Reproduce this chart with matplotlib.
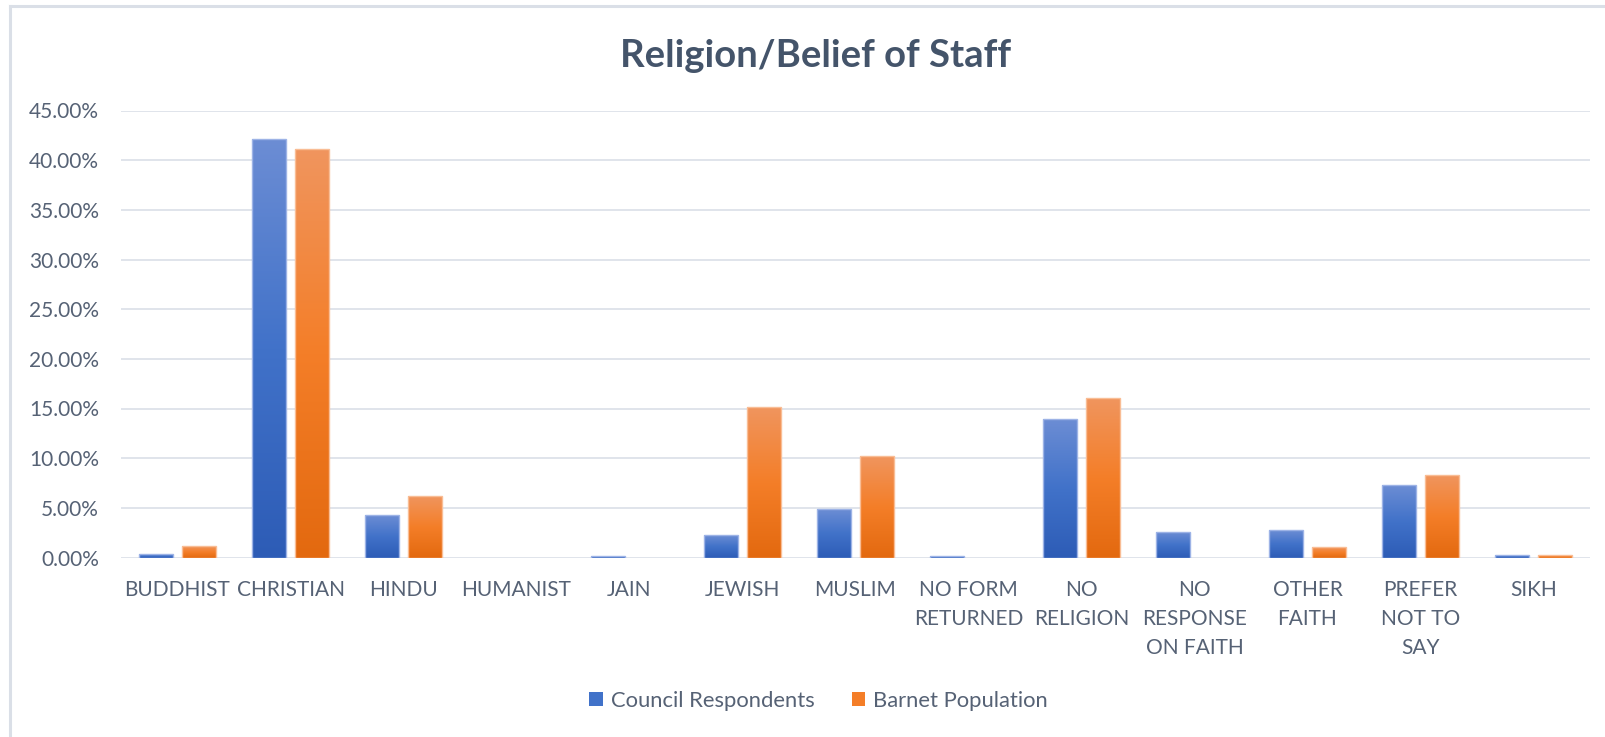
import numpy as np
import matplotlib
matplotlib.use('Agg')
import matplotlib.pyplot as plt
from matplotlib.colors import LinearSegmentedColormap
from matplotlib.lines import Line2D
from matplotlib.patches import Patch
from matplotlib.ticker import PercentFormatter, MultipleLocator

plt.rcParams['font.family'] = ['Lato', 'DejaVu Sans']

categories = ['BUDDHIST', 'CHRISTIAN', 'HINDU', 'HUMANIST', 'JAIN', 'JEWISH',
              'MUSLIM', 'NO FORM\nRETURNED', 'NO\nRELIGION', 'NO\nRESPONSE\nON FAITH',
              'OTHER\nFAITH', 'PREFER\nNOT TO\nSAY', 'SIKH']
council = [0.35, 42.17, 4.30, 0.0, 0.20, 2.24, 4.85, 0.20, 13.90, 2.55, 2.76, 7.29, 0.30]
barnet = [1.20, 41.10, 6.15, 0.0, 0.0, 15.15, 10.25, 0.0, 16.07, 0.0, 1.08, 8.33, 0.30]
series = ['Council Respondents', 'Barnet Population']

TEXT = '#566275'
GRID = '#DADFE7'
BLUE = ('#2D5CB6', '#4172C9', '#6C8DD4')     # bottom, middle, top
ORANGE = ('#E3690F', '#F47E28', '#F0955E')


def gradient_fill(ax, bars, stops, edge):
    """Replace the flat fill of each bar with a vertical gradient."""
    cmap = LinearSegmentedColormap.from_list('grad', list(stops))
    grad = np.linspace(0, 1, 256).reshape(-1, 1)
    for b in bars:
        h = b.get_height()
        if h <= 0:
            b.set_visible(False)
            continue
        x, y = b.get_xy()
        w = b.get_width()
        ax.imshow(grad, extent=[x, x + w, y, y + h], origin='lower',
                  aspect='auto', cmap=cmap, zorder=2, interpolation='bilinear')
        b.set_facecolor('none')
        b.set_edgecolor(edge)
        b.set_linewidth(1.0)
        b.set_zorder(3)


fig = plt.figure(figsize=(16.05, 7.37), dpi=100, facecolor='white')
ax = fig.add_axes([121 / 1605, 1 - 557.5 / 737, (1590 - 121) / 1605, (557.5 - 110.5) / 737])

x = np.arange(len(categories))
w = 0.30
off = 0.19
b1 = ax.bar(x - off, council, w, color=BLUE[1])
b2 = ax.bar(x + off, barnet, w, color=ORANGE[1])
gradient_fill(ax, b1, BLUE, '#9DB3E6')
gradient_fill(ax, b2, ORANGE, '#F9BD95')

ax.set_xlim(-0.5, len(categories) - 0.5)
ax.set_ylim(0, 45)
ax.yaxis.set_major_locator(MultipleLocator(5))
ax.yaxis.set_major_formatter(PercentFormatter(xmax=100, decimals=2))
ax.grid(axis='y', color=GRID, linewidth=1.2, zorder=0)
ax.set_axisbelow(True)
for s in ax.spines.values():
    s.set_visible(False)

ax.set_xticks(x)
ax.set_xticklabels(categories, fontsize=15, color=TEXT, linespacing=1.58, va='top')
ax.tick_params(axis='x', length=0, pad=16)
ax.tick_params(axis='y', length=0, pad=16, labelsize=15, labelcolor=TEXT)

fig.text(0.508, 1 - 67 / 737, 'Religion/Belief of Staff', ha='center', va='baseline',
         fontsize=27.5, fontweight='bold', color='#44546A')

handles = [Patch(facecolor=BLUE[1], edgecolor='none'),
           Patch(facecolor=ORANGE[1], edgecolor='none')]
fig.legend(handles, series, loc='center', bbox_to_anchor=(0.51, 1 - 701 / 737),
           ncol=2, frameon=False, fontsize=15.8, labelcolor=TEXT,
           handlelength=0.62, handleheight=0.62, handletextpad=0.35,
           columnspacing=1.7)

# chart frame along the top and left
fig.add_artist(Line2D([9.5 / 1605, 9.5 / 1605], [0, 1 - 5.5 / 737],
                      transform=fig.transFigure, color=GRID, linewidth=2.2))
fig.add_artist(Line2D([9.5 / 1605, 1], [1 - 5.5 / 737, 1 - 5.5 / 737],
                      transform=fig.transFigure, color=GRID, linewidth=2.2))

fig.savefig('out.png', dpi=100, facecolor='white')
